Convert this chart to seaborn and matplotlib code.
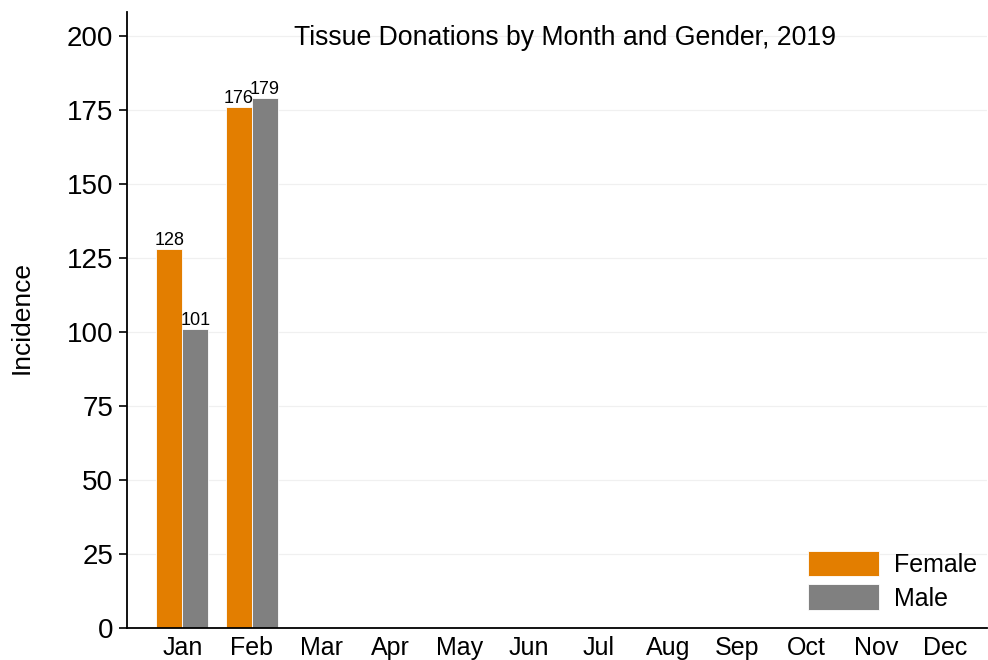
import numpy as np
import pandas as pd
import matplotlib
matplotlib.use('Agg')
import matplotlib.pyplot as plt
import seaborn as sns

# data
months = ['Jan', 'Feb', 'Mar', 'Apr', 'May', 'Jun',
          'Jul', 'Aug', 'Sep', 'Oct', 'Nov', 'Dec']
female = [128, 176] + [np.nan] * 10
male = [101, 179] + [np.nan] * 10
yticks = [0, 25, 50, 75, 100, 125, 150, 175, 200]

df = pd.DataFrame({
    'Month': months * 2,
    'Incidence': female + male,
    'Gender': ['Female'] * 12 + ['Male'] * 12,
})

sns.set_theme(style='white')
plt.rcParams['font.family'] = ['Liberation Sans', 'DejaVu Sans']
plt.rcParams.update({'text.color': 'black', 'axes.labelcolor': 'black',
                     'xtick.color': 'black', 'ytick.color': 'black'})

fig, ax = plt.subplots(figsize=(9.88, 6.6), dpi=100)
fig.subplots_adjust(left=0.1285, right=0.999, bottom=0.0485, top=0.982)

sns.barplot(data=df, x='Month', y='Incidence', hue='Gender', order=months,
            palette={'Female': '#E37E00', 'Male': '#808080'},
            width=0.75, edgecolor='white', linewidth=0.6,
            saturation=1, errorbar=None, ax=ax)

# value labels on bars
for cont in ax.containers:
    labels = ['' if np.isnan(v) else f'{v:.0f}' for v in cont.datavalues]
    ax.bar_label(cont, labels=labels, fontsize=13, padding=0)

ax.set_xlim(-0.8, 11.6)
ax.set_ylim(0, 208)
ax.set_yticks(yticks)
ax.yaxis.grid(True, color='#f0f0f0', linewidth=0.9)
ax.set_axisbelow(True)

for s in ['top', 'right']:
    ax.spines[s].set_visible(False)
for s in ['left', 'bottom']:
    ax.spines[s].set_color('black')
    ax.spines[s].set_linewidth(1.3)

ax.tick_params(axis='y', which='both', left=True, length=6, width=1.2,
               color='black', labelsize=20, pad=4)
ax.tick_params(axis='x', length=0, labelsize=18, pad=6)
ax.set_xlabel('')
ax.set_ylabel('')
fig.text(22 / 988, 1 - 318 / 660, 'Incidence', rotation=90,
         ha='center', va='center', fontsize=19)

ax.text(0.509, 0.958, 'Tissue Donations by Month and Gender, 2019',
        transform=ax.transAxes, ha='center', va='center', fontsize=19.2)

ax.legend(loc='lower right', bbox_to_anchor=(1.0, 0.012), frameon=False,
          fontsize=18, title=None, handlelength=2.85, handleheight=1.2,
          handletextpad=0.6, labelspacing=0.3, borderaxespad=0)

fig.savefig('out.png', dpi=100)
